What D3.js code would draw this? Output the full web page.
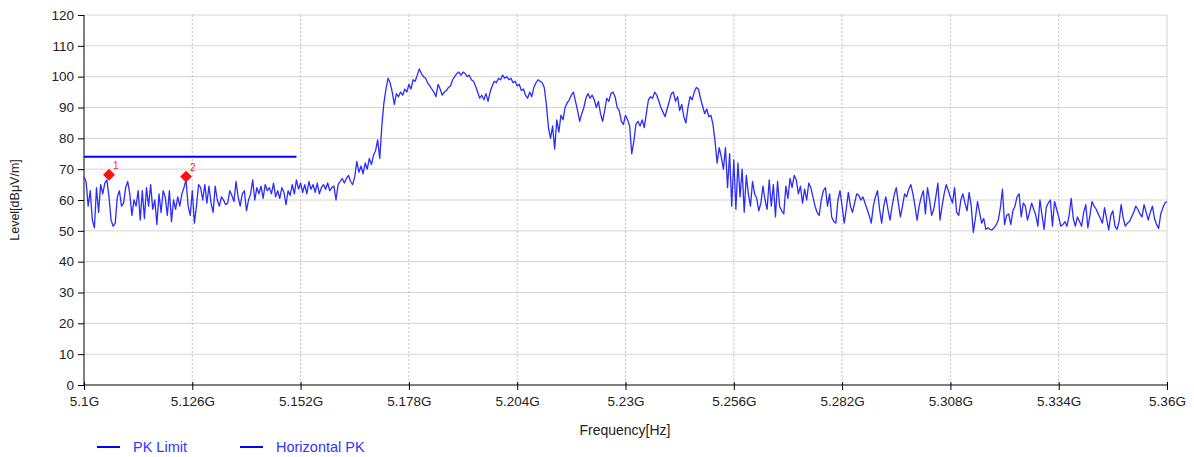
<!DOCTYPE html>
<html>
<head>
<meta charset="utf-8">
<script src="https://cdn.jsdelivr.net/npm/d3@7"></script>
<style>
  html, body { margin: 0; padding: 0; background: #fff; }
  svg { display: block; font-family: Arial, "Liberation Sans", sans-serif; }
</style>
</head>
<body>
<svg id="chart" width="1194" height="457"></svg>
<script>
// ---- data ----
const yTicks = [0, 10, 20, 30, 40, 50, 60, 70, 80, 90, 100, 110, 120];
const xTickValues = [5.1, 5.126, 5.152, 5.178, 5.204, 5.23, 5.256, 5.282, 5.308, 5.334, 5.36];
const xTickLabels = ["5.1G", "5.126G", "5.152G", "5.178G", "5.204G", "5.23G", "5.256G", "5.282G", "5.308G", "5.334G", "5.36G"];
const seriesNames = ["PK Limit", "Horizontal PK"];

// PK limit line (GHz, dBuV/m)
const limitFreq = [5.1, 5.151];
const limitLevel = [74, 74];

// markers
const markerIds = ["1", "2"];
const markerFreq = [5.106, 5.1245];
const markerLevel = [68.2, 67.6];

// Horizontal PK sweep: start 5100 MHz, 0.5 MHz steps
const sweepStartMHz = 5100;
const sweepStepMHz = 0.5;
const horizontalPK = [
  // 5100
  67.5, 66, 58, 63, 53.5, 51, 64, 56, 65, 62, 65.5, 66.5, 61, 53.5, 51.5, 52.5, 61, 63, 58, 59,
  // 5110
  64, 66, 62, 55, 60, 58, 63, 53.5, 63, 54, 64, 58, 65, 57, 60, 52, 62, 56, 63, 61,
  // 5120
  55, 63, 53, 60, 57, 61, 58, 62, 64, 66.5, 58, 55, 63, 52.5, 58, 65, 64, 60, 65, 59,
  // 5130
  64.5, 59, 56, 64.5, 60, 58, 61, 60, 58.5, 59, 63, 61.5, 59.5, 66, 61, 58, 62, 63, 56.5, 60,
  // 5140
  62, 66.5, 60, 64, 62, 64.5, 60.5, 65, 63, 64, 62, 65.5, 61, 63, 60.5, 64, 62.5, 58.5, 63, 61.5,
  // 5150
  65, 62, 66.5, 63.5, 65.5, 62.5, 65, 62, 66, 63.5, 65, 62.5, 65.5, 62, 64, 65, 63.5, 65.5, 63, 64,
  // 5160
  64.5, 60, 65, 66, 67, 65.5, 67, 68, 66, 65, 67.5, 72.5, 69, 71, 68.5, 72, 70, 73.5, 71.5, 74.5,
  // 5170
  76, 79.5, 73.5, 84, 91.5, 96, 99.5, 98, 95, 91, 94.5, 93.5, 95, 94, 96, 95, 97.5, 96, 99, 98.5,
  // 5180
  100.5, 102.5, 101, 100, 99.5, 98, 97, 96, 95, 93.5, 97.5, 96, 94, 95, 95.5, 96.5, 97, 99, 100, 101,
  // 5190
  101.5, 100.5, 101.5, 101, 100, 100.5, 99, 98.5, 97, 95, 93, 94, 92.5, 94.5, 92, 95, 97, 98.5, 98, 99.5,
  // 5200
  99, 100.5, 99.5, 100, 99, 99.5, 98, 98.5, 97, 97.5, 95.5, 96, 94, 93, 95, 93.5, 96.5, 98, 99, 98.5,
  // 5210
  98, 96.5, 91, 83.5, 80, 84, 76.5, 86, 82, 87.5, 86, 90, 91.5, 92.5, 94, 95, 92, 89, 85.5, 88,
  // 5220
  90, 93, 94.5, 93, 94, 92.5, 90, 92, 88, 85.5, 89, 93, 92, 94.5, 95, 93.5, 90, 89, 85.5, 84.5,
  // 5230
  87.5, 86, 84, 75, 79, 84.5, 85.5, 84, 86, 83.5, 88, 92.5, 93.5, 93, 95, 94, 92, 90, 88.5, 87,
  // 5240
  89.5, 92, 94.5, 95, 92, 93.5, 89, 91, 87, 85, 90, 93.5, 92.5, 95, 96.5, 96, 93, 90.5, 88, 89.5,
  // 5250
  87, 87.5, 84.5, 79, 72, 77, 74, 70, 77, 64, 75, 58, 73, 57, 72, 61, 70, 56, 68, 62,
  // 5260
  58, 66, 62, 60.5, 56.5, 59, 64.5, 60, 57, 66.5, 58, 65, 54.5, 66, 58, 56.5, 55.5, 64.5, 60.5, 67,
  // 5270
  64, 68, 66.5, 62, 64.5, 59, 63.5, 60, 65.5, 64, 61, 58, 56, 55, 60, 63, 64, 58, 62, 54.5,
  // 5280
  53, 52.5, 60, 63, 58, 52.5, 57, 62.5, 58, 56, 59, 62, 61.5, 60, 61, 59, 57, 55, 52.5, 58,
  // 5290
  61, 63, 57, 52.5, 58, 61, 57, 53.5, 58, 61.5, 64, 59, 54.5, 58, 62, 61, 63.5, 65, 62, 58,
  // 5300
  53.5, 58, 61, 63, 55.5, 64, 60, 55, 57, 61, 65.5, 53.5, 58, 62, 65, 63, 61, 59, 64, 56,
  // 5310
  55, 60, 62, 59, 56.5, 62.5, 58, 49.5, 54, 59.5, 56, 52.5, 54, 50.5, 51, 50.5, 50.3, 51, 52, 53.5,
  // 5320
  57.5, 63.5, 52, 55, 55.5, 52, 56.5, 58, 61, 62, 54.5, 59, 58, 53.5, 56, 59, 57, 55, 51.5, 60,
  // 5330
  55, 50.5, 57.5, 59, 60, 51.5, 59.5, 57, 54.5, 51.5, 52, 53, 51.5, 55, 60.5, 54, 51.5, 54.5, 53, 51.5,
  // 5340
  56, 58.5, 51, 55, 59.5, 58, 57, 55.5, 54, 52.5, 57.5, 54, 50.3, 55, 56.5, 51.5, 50.5, 53, 58.5, 54,
  // 5350
  51.5, 52.5, 53, 54.5, 56, 58, 57, 55.5, 54.5, 58.5, 56, 53.5, 56, 58, 54, 52, 50.8, 55.5, 57.5, 59,
  // 5360
  59.5
];

// ---- layout ----
const svg = d3.select("#chart");
const margin = { left: 84, right: 1167, top: 15, bottom: 385 };

const x = d3.scaleLinear().domain([5.1, 5.36]).range([margin.left, margin.right]);
const y = d3.scaleLinear().domain([0, 120]).range([margin.bottom, margin.top]);

// grid: horizontal
svg.append("g").selectAll("line").data(yTicks.filter(d => d > 0)).join("line")
  .attr("x1", margin.left).attr("x2", margin.right)
  .attr("y1", d => y(d)).attr("y2", d => y(d))
  .attr("stroke", "#d4d4d4").attr("stroke-width", 1);

// grid: vertical
svg.append("g").selectAll("line").data(xTickValues.slice(1)).join("line")
  .attr("x1", d => x(d)).attr("x2", d => x(d))
  .attr("y1", margin.top).attr("y2", margin.bottom)
  .attr("stroke", (d, i, a) => i === a.length - 1 ? "#d4d4d4" : "#c4c4c4")
  .attr("stroke-width", 1)
  .attr("stroke-dasharray", (d, i, a) => i === a.length - 1 ? null : "2,2");

// axes
const yAxis = d3.axisLeft(y).tickValues(yTicks).tickSize(6).tickPadding(4);
const gy = svg.append("g").attr("transform", `translate(${margin.left},0)`).call(yAxis);
gy.select(".domain").attr("stroke", "#000").attr("d", `M0,${margin.top}V${margin.bottom}`);
gy.selectAll(".tick line").attr("stroke", "#000");
gy.selectAll(".tick text").attr("font-size", 13.5).attr("fill", "#222").attr("font-family", "Arial, 'Liberation Sans', sans-serif");

const xAxis = d3.axisBottom(x).tickValues(xTickValues).tickFormat((d, i) => xTickLabels[i]).tickSize(5).tickPadding(6);
const gx = svg.append("g").attr("transform", `translate(0,${margin.bottom})`).call(xAxis);
gx.select(".domain").attr("stroke", "#000").attr("d", `M${margin.left},0H${margin.right}`);
gx.selectAll(".tick line").attr("stroke", "#000").attr("y1", -3);
gx.selectAll(".tick text").attr("font-size", 13.5).attr("fill", "#222").attr("font-family", "Arial, 'Liberation Sans', sans-serif");

// axis titles
svg.append("text").attr("transform", `translate(19,${(margin.top + margin.bottom) / 2}) rotate(-90)`)
  .attr("text-anchor", "middle").attr("font-size", 12.5).attr("fill", "#222").text("Level[dBμV/m]");
svg.append("text").attr("x", 625).attr("y", 435)
  .attr("text-anchor", "middle").attr("font-size", 14).attr("fill", "#222").text("Frequency[Hz]");

// limit line
const limitData = limitFreq.map((f, i) => [f, limitLevel[i]]);
svg.append("path").datum(limitData)
  .attr("fill", "none").attr("stroke", "#0000ff").attr("stroke-width", 2)
  .attr("d", d3.line().x(d => x(d[0])).y(d => y(d[1])));

// trace
const traceData = horizontalPK.map((v, i) => [(sweepStartMHz + i * sweepStepMHz) / 1000, v]);
svg.append("path").datum(traceData)
  .attr("fill", "none").attr("stroke", "#2b2bff").attr("stroke-width", 1.3)
  .attr("stroke-linejoin", "round")
  .attr("d", d3.line().x(d => x(d[0])).y(d => y(d[1])));

// markers (square diamonds)
const markers = markerIds.map((id, i) => ({ id, f: markerFreq[i], v: markerLevel[i] }));
svg.append("g").selectAll("path").data(markers).join("path")
  .attr("transform", d => `translate(${x(d.f)},${y(d.v)}) rotate(45)`)
  .attr("d", d3.symbol().type(d3.symbolSquare).size(70))
  .attr("fill", "#ff1010");
svg.append("g").selectAll("text").data(markers).join("text")
  .attr("x", d => x(d.f) + 4).attr("y", d => y(d.v) - 6)
  .attr("font-size", 10).attr("fill", "#ff3030").text(d => d.id);

// legend
const legendX = [97, 240];
const legend = svg.append("g").selectAll("g").data(seriesNames).join("g")
  .attr("transform", (d, i) => `translate(${legendX[i]},447)`);
legend.append("line").attr("x1", 0).attr("x2", 23).attr("y1", 0).attr("y2", 0)
  .attr("stroke", "#0000ff").attr("stroke-width", 2);
legend.append("text").attr("x", 36).attr("y", 5).attr("font-size", 14.5)
  .attr("fill", "#3333ff").text(d => d);
</script>
</body>
</html>
